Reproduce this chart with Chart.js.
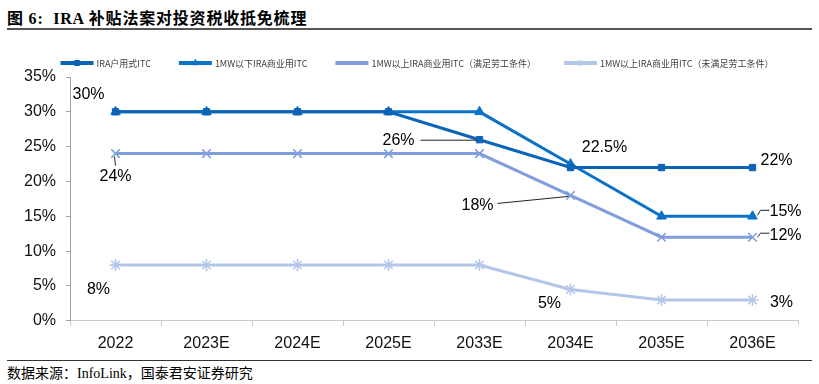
<!DOCTYPE html>
<html>
<head>
<meta charset="utf-8">
<script src="https://cdn.jsdelivr.net/npm/chart.js@4"></script>
<style>
  body { margin: 0; width: 819px; height: 384px; background: #fff; position: relative; overflow: hidden; }
  #title { position: absolute; left: 7px; top: 5px; font: bold 16px "Liberation Serif", "Noto Sans CJK SC"; letter-spacing: 0.8px; color: #000; }
  #rule1 { position: absolute; left: 7px; top: 28px; width: 805px; height: 2px; background: #555; }
  #wrap { position: absolute; left: 0; top: 40px; width: 819px; height: 321px; }
  #rule2 { position: absolute; left: 7px; top: 360px; width: 805px; height: 1px; background: #333; }
  #src { position: absolute; left: 7px; top: 362px; font: 14px "Liberation Serif", "Noto Sans CJK SC"; color: #000; }
</style>
</head>
<body>
<div id="title">图 6:&nbsp; IRA 补贴法案对投资税收抵免梳理</div>
<div id="rule1"></div>
<div id="wrap"><canvas id="myChart"></canvas></div>
<div id="rule2"></div>
<div id="src">数据来源：InfoLink，国泰君安证券研究</div>

<script>
const years = ['2022', '2023E', '2024E', '2025E', '2033E', '2034E', '2035E', '2036E'];
const household = [30, 30, 30, 30, 26, 22, 22, 22];
const commSmall = [30, 30, 30, 30, 30, 22.5, 15, 15];
const commLargeLabor = [24, 24, 24, 24, 24, 18, 12, 12];
const commLargeNoLabor = [8, 8, 8, 8, 8, 4.5, 3, 3];
const seriesNames = [
  'IRA户用式ITC',
  '1MW以下IRA商业用ITC',
  '1MW以上IRA商业用ITC（满足劳工条件）',
  '1MW以上IRA商业用ITC（未满足劳工条件）'
];
const colors = ['#0b64b5', '#0a72c9', '#7f9edb', '#b3c6e8'];
const styles = ['rect', 'triangle', 'crossRot', 'star'];

// value labels: text, dataset, point, offset from point, optional leader line
const notes = [
  { t: '30%', ds: 1, i: 0, dx: -27, dy: -17 },
  { t: '24%', ds: 2, i: 0, dx: 0, dy: 23, lead: [[0, 12], [-1, 3]] },
  { t: '8%', ds: 3, i: 0, dx: -17, dy: 25 },
  { t: '26%', ds: 0, i: 4, dx: -81, dy: 1, lead: [[-59, 0.5], [-3, 0.5]] },
  { t: '18%', ds: 2, i: 5, dx: -93, dy: 10, lead: [[-73, 8], [-2, 1]] },
  { t: '22.5%', ds: 1, i: 5, dx: 34, dy: -16 },
  { t: '22%', ds: 0, i: 7, dx: 24, dy: -7 },
  { t: '15%', ds: 1, i: 7, dx: 33, dy: -5, lead: [[17, -6], [8, -6], [5, -1]] },
  { t: '12%', ds: 2, i: 7, dx: 33, dy: -2, lead: [[17, -4], [8, -4], [5, 0]] },
  { t: '5%', ds: 3, i: 5, dx: -21, dy: 14 },
  { t: '3%', ds: 3, i: 7, dx: 29, dy: 3 }
];

const labelPlugin = {
  id: 'labels',
  afterDatasetsDraw(chart) {
    const ctx = chart.ctx;
    ctx.save();
    ctx.font = '16px "Liberation Sans", Arial, sans-serif';
    ctx.fillStyle = '#000';
    ctx.textAlign = 'center';
    ctx.textBaseline = 'middle';
    notes.forEach(n => {
      const p = chart.getDatasetMeta(n.ds).data[n.i];
      if (n.lead) {
        ctx.strokeStyle = '#222';
        ctx.lineWidth = 1;
        ctx.beginPath();
        n.lead.forEach((q, k) => {
          if (k === 0) ctx.moveTo(p.x + q[0], p.y + q[1]);
          else ctx.lineTo(p.x + q[0], p.y + q[1]);
        });
        ctx.stroke();
      }
      ctx.fillText(n.t, p.x + n.dx, p.y + n.dy);
    });
    ctx.restore();
  }
};

const legendPlugin = {
  id: 'myLegend',
  afterDraw(chart) {
    const ctx = chart.ctx;
    const y = 23;
    const lineW = 33, gap = 3, pad = 28;
    ctx.save();
    ctx.font = '9px "Noto Sans CJK SC", sans-serif';
    const widths = seriesNames.map(s => ctx.measureText(s).width);
    const total = widths.reduce((a, w) => a + lineW + gap + w, 0) + pad * (seriesNames.length - 1);
    let x = 417 - total / 2;
    seriesNames.forEach((s, k) => {
      ctx.strokeStyle = colors[k];
      ctx.lineWidth = 4;
      ctx.beginPath();
      ctx.moveTo(x, y);
      ctx.lineTo(x + lineW, y);
      ctx.stroke();
      ctx.fillStyle = colors[k];
      ctx.strokeStyle = colors[k];
      ctx.lineWidth = 1;
      Chart.helpers.drawPoint(ctx, { pointStyle: styles[k], radius: 3.5, rotation: 0, borderWidth: 1 }, x + lineW / 2, y);
      ctx.fillStyle = '#404040';
      ctx.textAlign = 'left';
      ctx.textBaseline = 'middle';
      ctx.fillText(s, x + lineW + gap, y + 1);
      x += lineW + gap + widths[k] + pad;
    });
    ctx.restore();
  }
};

const seriesData = [household, commSmall, commLargeLabor, commLargeNoLabor];
const radii = [4.5, 5.5, 6, 6];

const myChart = new Chart(document.getElementById('myChart'), {
  type: 'line',
  data: {
    labels: years,
    datasets: seriesData.map((d, k) => ({
      label: seriesNames[k],
      data: d,
      borderColor: colors[k],
      backgroundColor: colors[k],
      borderWidth: 3,
      pointStyle: styles[k],
      pointRadius: radii[k],
      pointBackgroundColor: colors[k],
      pointBorderColor: colors[k],
      pointBorderWidth: k > 1 ? 1.5 : 1,
      tension: 0,
      fill: false
    }))
  },
  options: {
    responsive: true,
    maintainAspectRatio: false,
    animation: false,
    layout: { padding: { top: 37, right: 21, left: 0, bottom: 0 } },
    plugins: {
      legend: { display: false },
      tooltip: { enabled: false }
    },
    scales: {
      x: {
        offset: true,
        grid: { offset: true, drawOnChartArea: false, tickLength: 5, color: '#c8c8c8' },
        border: { color: '#c8c8c8' },
        ticks: { font: { size: 16, family: '"Liberation Sans", Arial, sans-serif' }, color: '#111', padding: 8, maxRotation: 0 }
      },
      y: {
        min: 0,
        max: 35,
        afterFit: s => { s.width = 70; },
        grid: { drawOnChartArea: false, tickLength: 4, color: '#a0a0a0' },
        border: { color: '#a0a0a0' },
        ticks: {
          stepSize: 5,
          padding: 10,
          color: '#111',
          font: { size: 16, family: '"Liberation Sans", Arial, sans-serif' },
          callback: v => v + '%'
        }
      }
    }
  },
  plugins: [labelPlugin, legendPlugin]
});
</script>
</body>
</html>
